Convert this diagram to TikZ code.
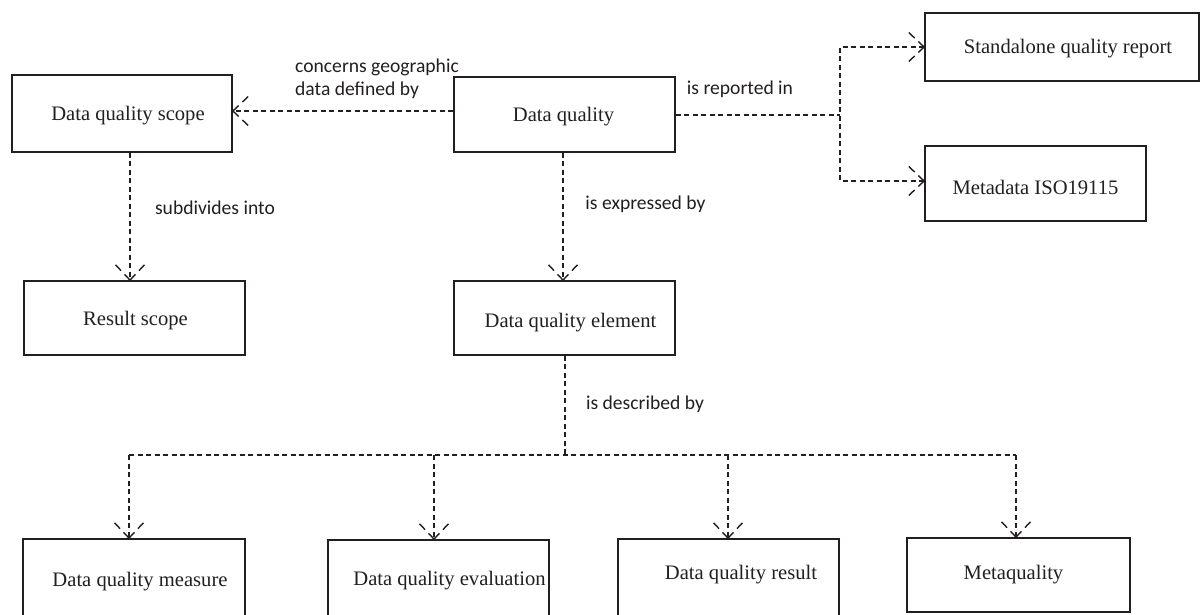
\documentclass[tikz,border=0pt]{standalone}
\usepackage{fontspec}
\setmainfont{Liberation Serif}
\newfontfamily\lblfont{Carlito}
\usetikzlibrary{calc}
\definecolor{ink}{HTML}{231F20}
\tikzset{
  box/.style={draw=ink, line width=1.8pt, inner sep=0pt},
  boxtext/.style={font=\fontsize{20.6}{24}\selectfont, text=ink, inner sep=0pt},
  lbl/.style={font=\lblfont\fontsize{19.6}{23.5}\selectfont, text=ink, inner sep=0pt},
  conn/.style={draw=ink, line width=1.4pt, dash pattern=on 5pt off 3.5pt},
  arm/.style={draw=ink, line width=1.4pt, dash pattern=on 8pt off 5pt},
}
\newcommand\hdown[1]{\draw[arm] (#1) -- ++(-17,-18) (#1) -- ++(17,-18);}
\newcommand\hleft[1]{\draw[arm] (#1) -- ++(18,-17) (#1) -- ++(18,17);}
\newcommand\hright[1]{\draw[arm] (#1) -- ++(-18,-17) (#1) -- ++(-18,17);}
\begin{document}
\begin{tikzpicture}[x=1pt,y=-1pt]
\useasboundingbox (0,0) rectangle (1203,614);
\clip (0,0) rectangle (1203,614);
\fill[white] (0,0) rectangle (1203,614);

% boxes
\node[box, minimum width=220pt, minimum height=77pt,
  label={[boxtext, shift={(6,2)}]center:Data quality scope}] (dqs) at (122,113.5) {};
\node[box, minimum width=221pt, minimum height=75pt,
  label={[boxtext, shift={(-1,2)}]center:Data quality}] (dq) at (564.5,114.5) {};
\node[box, minimum width=274pt, minimum height=68pt,
  label={[boxtext, shift={(6,2)}]center:Standalone quality report}] (sqr) at (1062,47) {};
\node[box, minimum width=221pt, minimum height=75pt,
  label={[boxtext, shift={(0,4)}]center:Metadata ISO19115}] (meta) at (1035.5,183.5) {};
\node[box, minimum width=221pt, minimum height=74pt,
  label={[boxtext, shift={(1,3)}]center:Result scope}] (rs) at (134.5,318) {};
\node[box, minimum width=221pt, minimum height=74pt,
  label={[boxtext, shift={(6,5)}]center:Data quality element}] (dqe) at (564.5,318) {};
\node[box, minimum width=222pt, minimum height=81pt,
  label={[boxtext, shift={(6,2)}]center:Data quality measure}] (dqm) at (134,579.5) {};
\node[box, minimum width=221pt, minimum height=80pt,
  label={[boxtext, shift={(11,1)}]center:Data quality evaluation}] (dqev) at (438.5,580) {};
\node[box, minimum width=221pt, minimum height=81pt,
  label={[boxtext, shift={(12.5,-4.5)}]center:Data quality result}] (dqr) at (728.5,579.5) {};
\node[box, minimum width=223pt, minimum height=74pt,
  label={[boxtext, shift={(-5,0)}]center:Metaquality}] (mq) at (1018.5,575) {};

% labels
\node[lbl, anchor=west, align=left] (l1) at (295,79) {concerns geographic\\data defined by};
\node[lbl] (l2) at (740,89) {is reported in};
\node[lbl] (l3) at (215,207.5) {subdivides into};
\node[lbl] (l4) at (645.5,204) {is expressed by};
\node[lbl] (l5) at (645,404) {is described by};

% concerns geographic data defined by
\coordinate (tl) at ($(dqs.east)+(0,-2.5)$);
\draw[conn] ($(dq.west)+(0,-3.5)$) -- (tl);
\hleft{tl}

% is reported in
\coordinate (j1) at (840,115);
\coordinate (tr2) at ($(meta.west)+(0,-2.5)$);
\draw[conn] ($(dq.east)+(0,0.5)$) -- (j1);
\draw[conn] (sqr.west) -| (j1) |- (tr2);
\hright{sqr.west}
\hright{tr2}

% subdivides into
\coordinate (ts) at ($(rs.north)+(-4.5,0)$);
\draw[conn] (ts |- dqs.south) -- (ts);
\hdown{ts}

% is expressed by
\coordinate (te) at ($(dqe.north)+(-1.5,0)$);
\draw[conn] (te |- dq.south) -- (te);
\hdown{te}

% is described by
\coordinate (bus) at (565,455);
\coordinate (t1) at ($(dqm.north)+(-5,0)$);
\coordinate (t2) at ($(dqev.north)+(-4.5,0)$);
\coordinate (t3) at ($(dqr.north)+(-0.5,0)$);
\coordinate (t4) at ($(mq.north)+(-2.5,0)$);
\draw[conn] ($(dqe.south)+(0.5,0)$) -- (bus);
\draw[conn] (t1 |- bus) -- (t4 |- bus);
\draw[conn] (t1 |- bus) -- (t1);
\draw[conn] (t2 |- bus) -- (t2);
\draw[conn] (t3 |- bus) -- (t3);
\draw[conn] (t4 |- bus) -- (t4);
\hdown{t1}
\hdown{t2}
\hdown{t3}
\hdown{t4}
\end{tikzpicture}
\end{document}
